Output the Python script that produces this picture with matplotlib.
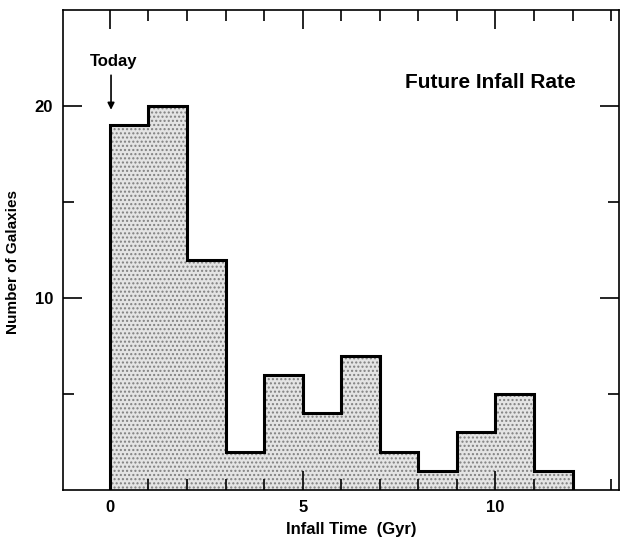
import matplotlib.pyplot as plt
import numpy as np

plt.rcParams['font.family'] = ['Liberation Sans', 'DejaVu Sans']
plt.rcParams['font.weight'] = 'bold'

# infall time bin edges (Gyr) and galaxy counts per bin
bin_edges = [0, 1, 2, 3, 4, 5, 6, 7, 8, 9, 10, 11, 12]
counts = [19, 20, 12, 2, 6, 4, 7, 2, 1, 3, 5, 1]

fig = plt.figure(figsize=(6.22, 5.37), dpi=100)
ax = fig.add_axes([0.101, 0.0875, 0.894, 0.894])

# stippled fill
ax.stairs(counts, bin_edges, fill=True, facecolor='#e4e4e4', edgecolor='#808080',
          hatch='....', linewidth=0)
# outline
ax.stairs(counts, bin_edges, baseline=0, color='black', linewidth=2.2)

ax.set_xlim(-1.22, 13.2)
ax.set_ylim(0, 25)

ax.set_xticks([0, 5, 10])
ax.set_xticks(np.arange(0, 14), minor=True)
ax.set_yticks([10, 20])
ax.set_yticks([5, 15], minor=True)
ax.tick_params(which='both', direction='in', top=True, right=True, width=1.2,
               labelsize=12, pad=7)
ax.tick_params(which='major', length=14)
ax.tick_params(which='minor', length=8)
for s in ax.spines.values():
    s.set_linewidth(1.2)

ax.set_xlabel('Infall Time  (Gyr)', fontsize=12, fontweight='bold', va='center')
ax.xaxis.set_label_coords(0.518, -0.083)
ax.set_ylabel('Number of Galaxies', fontsize=11, fontweight='bold')
ax.yaxis.set_label_coords(-0.077, 0.475)

ax.text(9.87, 21.2, 'Future Infall Rate', fontsize=15, fontweight='bold',
        ha='center', va='center')
ax.text(0.1, 22.3, 'Today', ha='center', va='center', fontsize=12, fontweight='bold')
ax.annotate('', xy=(0.03, 19.8), xytext=(0.03, 21.6),
            arrowprops=dict(arrowstyle='-|>', color='black', lw=1.2,
                            mutation_scale=10, shrinkA=0, shrinkB=0))

fig.savefig('out.png', dpi=100)
